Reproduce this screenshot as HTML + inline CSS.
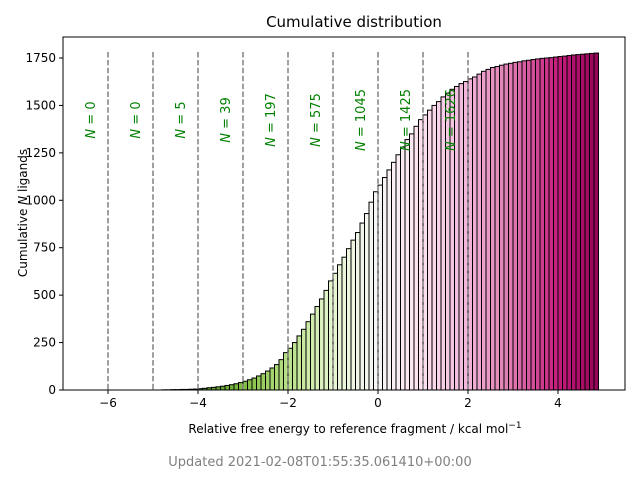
<!DOCTYPE html>
<html><head><meta charset="utf-8"><style>
body{margin:0;background:#fff;font-family:"Liberation Sans","DejaVu Sans",sans-serif;}
svg text{font-family:"DejaVu Sans","Liberation Sans",sans-serif;}
</style></head><body>
<svg id="chart" width="640" height="480" xmlns="http://www.w3.org/2000/svg">
<rect width="640" height="480" fill="#fff"/>
<g id="bars"></g>
<g id="vlines"></g>
<g id="axes"></g>
<text x="354" y="27" font-size="15" text-anchor="middle">Cumulative distribution</text>
<text x="355" y="433" font-size="12" text-anchor="middle">Relative free energy to reference fragment / kcal mol<tspan dy="-5" font-size="9">−1</tspan></text>
<text transform="translate(27,213) rotate(-90)" font-size="12" text-anchor="middle">Cumulative <tspan font-style="italic">N</tspan> ligands</text>
<text x="320" y="466" font-size="13" fill="#808080" text-anchor="middle">Updated 2021-02-08T01:55:35.061410+00:00</text>
</svg>
<script>
const binStart = -4.8;
const binWidth = 0.1;
const counts = [1,1,2,2,3,3,4,5,
7,9,12,14,17,20,24,28,33,39,
46,54,63,74,86,100,116,134,160,197,
220,250,285,320,360,400,440,480,525,575,
615,660,700,745,790,830,880,930,990,1045,
1080,1120,1160,1200,1240,1280,1320,1350,1390,1425,
1450,1475,1500,1520,1545,1565,1585,1600,1615,1626,
1640,1650,1665,1680,1690,1700,1705,1712,1718,1722,
1727,1730,1735,1738,1742,1745,1748,1750,1752,1755,
1758,1760,1763,1766,1768,1770,1772,1774,1776];
const thresholds = [-6,-5,-4,-3,-2,-1,0,1,2];
const thresholdLabels = ["0","0","5","39","197","575","1045","1425","1626"];
const xTicks = [-6,-4,-2,0,2,4];
const yTicks = [0,250,500,750,1000,1250,1500,1750];

const NS="http://www.w3.org/2000/svg";
const L=63,R=625,T=37,B=390;
const X=v=>378+v*45;
const Y=v=>B-v*(332/1750);
const stops=["#8e0152","#c51b7d","#de77ae","#f1b6da","#fde0ef","#f7f7f7","#e6f5d0","#b8e186","#7fbc41","#4d9221","#276419"];
function hex(c){return [1,3,5].map(i=>parseInt(c.substr(i,2),16));}
function cmap(x){let t=1-(x+5)/10;t=Math.max(0,Math.min(1,t));const p=t*10,i=Math.min(9,Math.floor(p)),f=p-i;
const a=hex(stops[i]),b=hex(stops[i+1]);return "rgb("+a.map((v,k)=>Math.round(v+(b[k]-v)*f)).join(",")+")";}
function mk(tag,attrs,parent){const e=document.createElementNS(NS,tag);for(const k in attrs)e.setAttribute(k,attrs[k]);parent.appendChild(e);return e;}
const bars=document.getElementById("bars");
counts.forEach((c,i)=>{const x0=binStart+i*binWidth;const r=mk("rect",{x:X(x0),y:Y(c),width:binWidth*45,height:B-Y(c),fill:cmap(x0+binWidth/2),stroke:"#000","stroke-width":1},bars);

});
const vl=document.getElementById("vlines");
thresholds.forEach((t,i)=>{const l=mk("line",{x1:X(t),x2:X(t),y1:52,y2:B,stroke:"#808080","stroke-width":1.5,"stroke-dasharray":"5.5,2.4"},vl);


const tx=mk("text",{transform:"translate("+(X(t)-13)+",120) rotate(-90)","font-size":13,fill:"#008000","text-anchor":"middle"},vl);
tx.innerHTML='<tspan font-style="italic">N</tspan> = '+thresholdLabels[i];

});
const ax=document.getElementById("axes");
mk("rect",{x:L,y:T,width:R-L,height:B-T,fill:"none",stroke:"#000","stroke-width":1},ax);
xTicks.forEach(v=>{mk("line",{x1:X(v),x2:X(v),y1:B,y2:B+4,stroke:"#000"},ax);
const t=mk("text",{x:X(v),y:B+17,"font-size":12,"text-anchor":"middle"},ax);t.textContent=(v<0?"−"+(-v):v);

});
yTicks.forEach(v=>{mk("line",{x1:L-4,x2:L,y1:Y(v),y2:Y(v),stroke:"#000"},ax);
const t=mk("text",{x:L-7,y:Y(v)+4,"font-size":12,"text-anchor":"end"},ax);t.textContent=v;

});
</script>
</body></html>
